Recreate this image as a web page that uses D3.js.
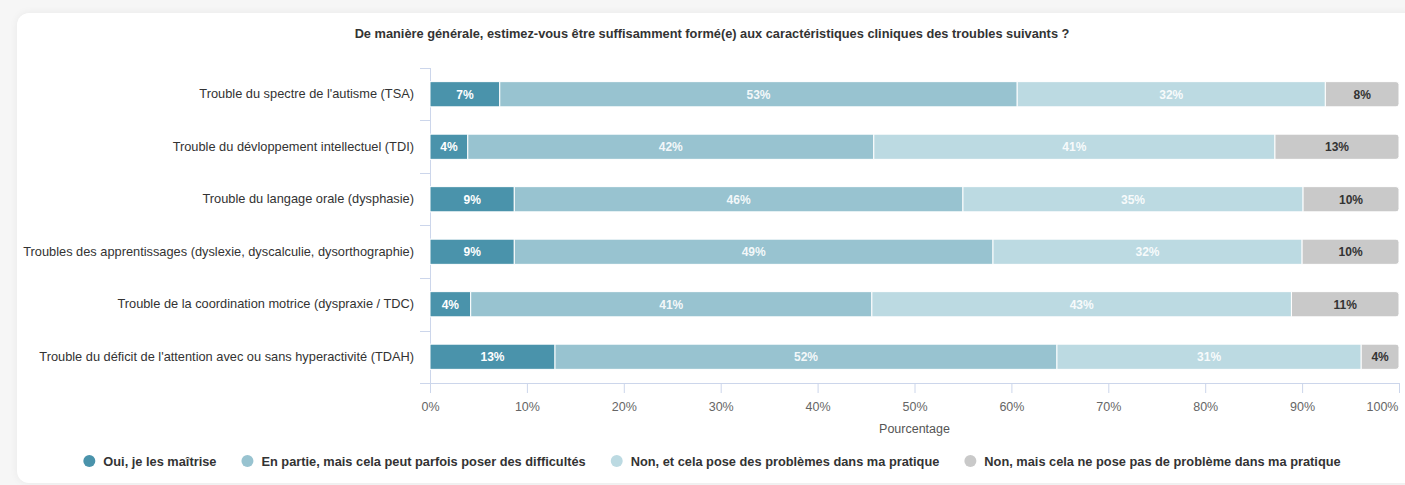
<!DOCTYPE html>
<html>
<head>
<meta charset="utf-8">
<script src="https://cdnjs.cloudflare.com/ajax/libs/d3/7.8.5/d3.min.js"></script>
<style>
  body { margin: 0; background: #f6f6f6; font-family: "Liberation Sans", Arial, sans-serif; overflow: hidden; }
  .card { position: absolute; left: 17px; top: 13px; width: 1400px; height: 470px; background: #fff;
          border-radius: 12px; box-shadow: 0 0 8px rgba(0,0,0,0.06); }
  svg { position: absolute; left: 0; top: 0; }
  .axis path, .axis line { stroke: #ccd6eb; }
  .axis text { fill: #666; font-size: 12.5px; font-family: "Liberation Sans", Arial, sans-serif; }
</style>
</head>
<body>
<div class="card"></div>
<script>
(function() {

// data
var categories = [
    "Trouble du spectre de l'autisme (TSA)",
    "Trouble du dévloppement intellectuel (TDI)",
    "Trouble du langage orale (dysphasie)",
    "Troubles des apprentissages (dyslexie, dyscalculie, dysorthographie)",
    "Trouble de la coordination motrice (dyspraxie / TDC)",
    "Trouble du déficit de l'attention avec ou sans hyperactivité (TDAH)"
];
var seriesNames = [
    "Oui, je les maîtrise",
    "En partie, mais cela peut parfois poser des difficultés",
    "Non, et cela pose des problèmes dans ma pratique",
    "Non, mais cela ne pose pas de problème dans ma pratique"
];
var oui      = [7.2, 3.9, 8.7, 8.7, 4.2, 12.9];
var enPartie = [53.4, 41.9, 46.3, 49.4, 41.4, 51.8];
var nonPose  = [31.8, 41.4, 35.1, 31.9, 43.3, 31.4];
var nonPas   = [7.6, 12.8, 9.9, 10.0, 11.1, 3.9];
var xTicks = [0, 10, 20, 30, 40, 50, 60, 70, 80, 90, 100];

var colors = ["#4a93ab", "#98c3d0", "#bcdae2", "#c9c9c9"];
var labelColors = ["#fff", "#fff", "#fff", "#333"];

var width = 1405, height = 485;
var plotLeft = 430, plotRight = 1399, plotTop = 68, plotBottom = 383;
var centerX = 712;

var svg = d3.select("body").append("svg")
    .attr("width", width)
    .attr("height", height);

//scales
var x = d3.scaleLinear().domain([0, 100]).range([plotLeft, plotRight]);
var y = d3.scaleBand().domain(categories).range([plotTop, plotBottom])
    .paddingInner(0.52).paddingOuter(0.26);

//stack the series
var rows = categories.map(function(c, i) {
    return { cat: c, s0: oui[i], s1: enPartie[i], s2: nonPose[i], s3: nonPas[i] };
});
var stack = d3.stack().keys(["s0", "s1", "s2", "s3"])(rows);

//title
svg.append("text")
    .attr("x", centerX)
    .attr("y", 38)
    .attr("text-anchor", "middle")
    .style("font-size", "12.8px")
    .style("font-weight", "bold")
    .style("fill", "#333")
    .text("De manière générale, estimez-vous être suffisamment formé(e) aux caractéristiques cliniques des troubles suivants ?");

//x axis
var xAxis = svg.append("g")
    .attr("class", "axis")
    .attr("transform", "translate(0," + plotBottom + ")")
    .call(d3.axisBottom(x).tickValues(xTicks).tickSize(10).tickPadding(9)
        .tickFormat(function(d) { return d + "%"; }));
xAxis.select(".domain").attr("d", "M" + plotLeft + ",0.5H" + plotRight);
// last label pulled inside the plot, like the original
xAxis.selectAll(".tick text").filter(function(d) { return d === 100; })
    .attr("text-anchor", "end").attr("dx", "-1");

svg.append("text")
    .attr("x", (plotLeft + plotRight) / 2)
    .attr("y", 433)
    .attr("text-anchor", "middle")
    .style("font-size", "12.5px")
    .style("fill", "#555")
    .text("Pourcentage");

//y axis (labels at band centers, ticks on band edges)
var yAxis = svg.append("g")
    .attr("class", "axis")
    .attr("transform", "translate(" + plotLeft + ",0)")
    .call(d3.axisLeft(y).tickSize(0).tickPadding(16));
yAxis.select(".domain").attr("d", "M0.5," + plotTop + "V" + plotBottom);
yAxis.selectAll("text").style("fill", "#333").style("font-size", "12.8px");

var edges = categories.map(function(c) { return y(c) - y.step() * y.paddingInner() / 2; });
edges.push(plotBottom);
yAxis.selectAll(".edge")
    .data(edges)
    .enter()
    .append("line")
    .attr("class", "edge")
    .attr("x1", -10).attr("x2", 0)
    .attr("y1", function(d) { return Math.round(d) + 0.5; })
    .attr("y2", function(d) { return Math.round(d) + 0.5; })
    .style("stroke", "#ccd6eb");

//bars
var layers = svg.selectAll(".layer")
    .data(stack)
    .enter()
    .append("g")
    .attr("class", "layer");

layers.each(function(layer, li) {
    var g = d3.select(this);
    g.selectAll("path")
        .data(layer)
        .enter()
        .append("path")
        .attr("d", function(d) {
            var x0 = x(d[0]), x1 = x(d[1]), y0 = y(d.data.cat), h = y.bandwidth();
            if (li < 3) return "M" + x0 + "," + y0 + "H" + x1 + "V" + (y0 + h) + "H" + x0 + "Z";
            var r = 3;
            return "M" + x0 + "," + y0 + "H" + (x1 - r) + "Q" + x1 + "," + y0 + " " + x1 + "," + (y0 + r) +
                "V" + (y0 + h - r) + "Q" + x1 + "," + (y0 + h) + " " + (x1 - r) + "," + (y0 + h) + "H" + x0 + "Z";
        })
        .style("fill", colors[li])
        .style("stroke", "#fff")
        .style("stroke-width", 1);

    g.selectAll("text")
        .data(layer)
        .enter()
        .append("text")
        .attr("x", function(d) { return (x(d[0]) + x(d[1])) / 2; })
        .attr("y", function(d) { return y(d.data.cat) + y.bandwidth() / 2 + 4.5; })
        .attr("text-anchor", "middle")
        .style("font-size", "12px")
        .style("font-weight", "bold")
        .style("fill", labelColors[li])
        .style("fill-opacity", li === 0 || li === 3 ? 1 : 0.9)
        .text(function(d) { return Math.round(d[1] - d[0]) + "%"; });
});

//legend
var legend = svg.append("g").attr("class", "legend");
var lx = 0;
seriesNames.forEach(function(name, i) {
    var item = legend.append("g").attr("transform", "translate(" + lx + ",0)");
    item.append("circle").attr("cx", 6).attr("cy", 0).attr("r", 6).style("fill", colors[i]);
    var t = item.append("text")
        .attr("x", 20)
        .attr("y", 4.5)
        .style("font-size", "12.8px")
        .style("font-weight", "bold")
        .style("fill", "#333")
        .text(name);
    lx += 20 + t.node().getComputedTextLength() + 25;
});
var legendWidth = lx - 25;
legend.attr("transform", "translate(" + (centerX - legendWidth / 2) + ",461)");

})();
</script>
</body>
</html>
